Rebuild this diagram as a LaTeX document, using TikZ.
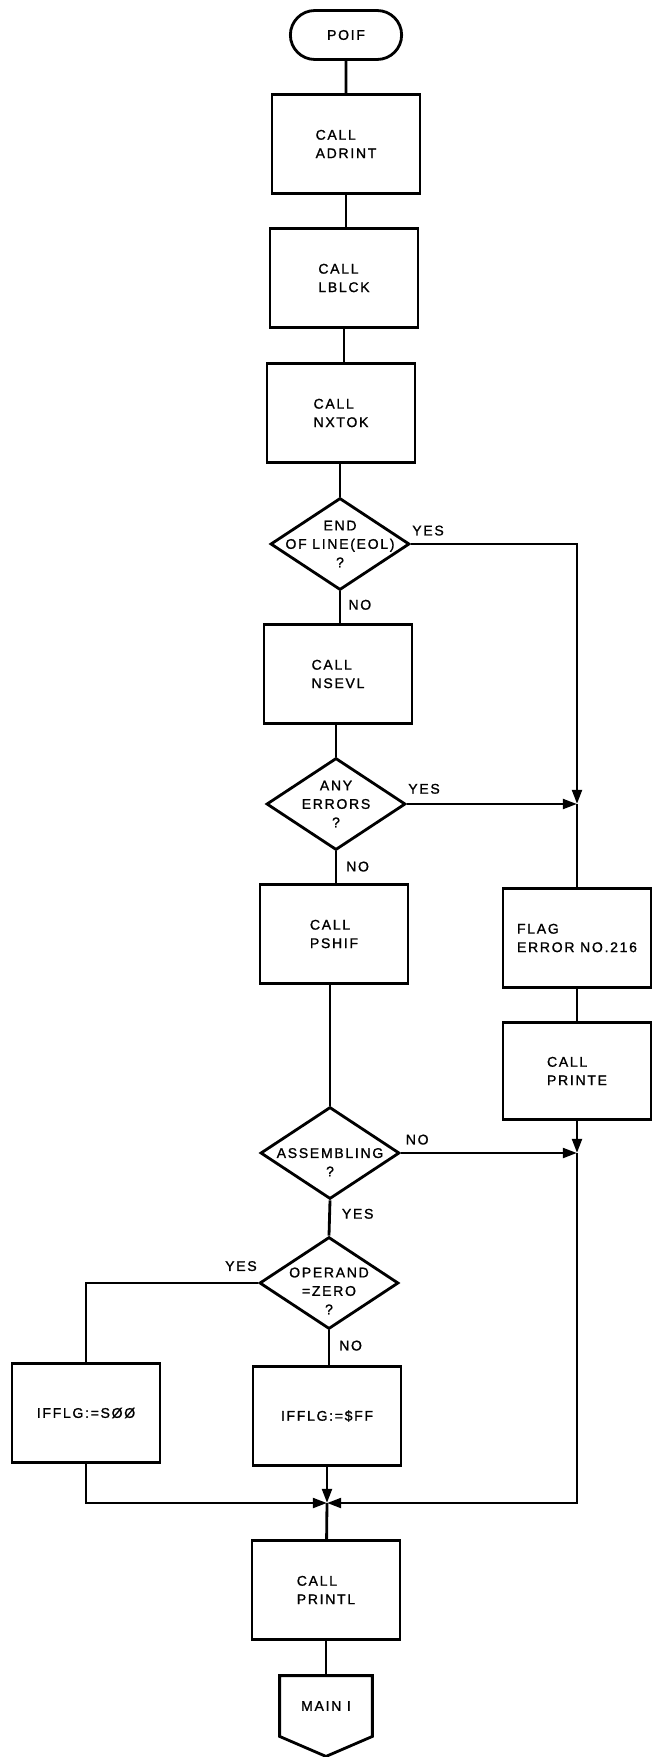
\documentclass[tikz,border=0pt]{standalone}
\usepackage{fontspec}
\usepackage{tikz}
\usetikzlibrary{shapes.geometric, shapes.misc, arrows.meta, positioning, calc}
\newfontfamily\flowfont[LetterSpace=12, FakeBold=1.2]{Liberation Sans}
\newcommand{\flowtext}{\flowfont\fontsize{8}{10.5}\selectfont}

\begin{document}
\begin{tikzpicture}[
    x=0.02cm, y=-0.02cm,
    line width=1.6pt,
    proc/.style={rectangle, draw, minimum width=2.96cm, minimum height=1.98cm,
        align=left, font=\flowtext, inner sep=2pt},
    test/.style={diamond, draw, aspect=1.5, minimum width=2.78cm, minimum height=1.84cm,
        inner sep=-14pt, align=center, font=\flowtext},
    term/.style={rounded rectangle, draw, minimum width=2.46cm, minimum height=0.98cm,
        font=\flowtext},
    lbl/.style={inner sep=0pt, font=\flowtext},
    arr/.style={-{Triangle[length=8pt, width=5.5pt]}}
]
\useasboundingbox (0,0) rectangle (654,1757);

% Main column (top to bottom)
\node[term] (poif) at (346,35) {POIF};
\node[proc] (adrint) at (346,144) {CALL\\ADRINT};
\node[proc] (lblck) at (344,278) {CALL\\LBLCK};
\node[proc] (nxtok) at (341,413) {CALL\\NXTOK};
\node[test] (eol) at (340,544) {END\\OF LINE(EOL)\\?};
\node[proc] (nsevl) at (338,674) {CALL\\NSEVL};
\node[test] (anyerr) at (336,804) {ANY\\ERRORS\\?};
\node[proc] (pshif) at (334,934) {CALL\\PSHIF};
\node[test] (asmb) at (330,1153) {\phantom{?}\\ASSEMBLING\\?};
\node[test] (opzero) at (329,1283) {\phantom{?}\\[-1.5pt]OPERAND\\=ZERO\\?};
\node[proc] (setff) at (327,1416) {IFFLG:=\$FF};
\node[proc] (set00) at (86,1413) {IFFLG:=SØØ};
\node[proc] (printl) at (326,1590) {CALL\\PRINTL};
\node[minimum width=1.8cm, minimum height=1.16cm, inner sep=0pt, font=\flowtext]
    (main) at (326,1706) {MAIN I};
\draw (main.north west) -- (main.north east) -- (main.south east)
    -- ($(main.south)+(0,20)$) -- (main.south west) -- cycle;

% Error branch on the right
\node[proc] (flag) at (577,938) {FLAG\\ERROR NO.216};
\node[proc, minimum height=1.94cm] (printe) at (577,1071) {CALL\\PRINTE};

% Junctions
\coordinate (j1) at (577,804);
\coordinate (j2) at (577,1153);
\coordinate (j3) at (327,1503);

% Connectors
\draw (poif) -- (adrint);
\draw (adrint) -- (adrint |- lblck.north);
\draw (lblck) -- (lblck |- nxtok.north);
\draw (eol.north |- nxtok.south) -- (eol.north);
\draw (eol.south) -- (eol.south |- nsevl.north);
\draw (anyerr.north |- nsevl.south) -- (anyerr.north);
\draw (anyerr.south) -- (anyerr.south |- pshif.north);
\draw (asmb.north |- pshif.south) -- (asmb.north);
\draw (asmb.south) -- (opzero.north);
\draw (opzero.south) -- (opzero.south |- setff.north);
\draw[arr] (eol.east) -| (j1);
\draw[arr] (anyerr.east) -- (j1);
\draw (j1) -- (flag);
\draw (flag) -- (printe);
\draw[arr] (printe) -- (j2);
\draw[arr] (asmb.east) -- (j2);
\draw[arr] (j2) |- (j3);
\draw (opzero.west) -| (set00);
\draw[arr] (set00) |- (j3);
\draw[arr] (setff) -- (j3);
\draw (j3) -- (printl);
\draw (printl) -- (main);

% Branch labels
\node[lbl, above right=4pt and 0pt of eol.east] (eolyes) {YES};
\node[lbl, below right=4pt and 4pt of eol.south] (eolno) {NO};
\node[lbl, above right=5pt and 0pt of anyerr.east] (erryes) {YES};
\node[lbl, below right=5pt and 5pt of anyerr.south] (errno) {NO};
\node[lbl, above right=4pt and 2pt of asmb.east] (asmbno) {NO};
\node[lbl, below right=4pt and 6pt of asmb.south] (asmbyes) {YES};
\node[lbl, above left=6pt and 0pt of opzero.west] (opyes) {YES};
\node[lbl, below right=5pt and 5pt of opzero.south] (opno) {NO};

\end{tikzpicture}
\end{document}
